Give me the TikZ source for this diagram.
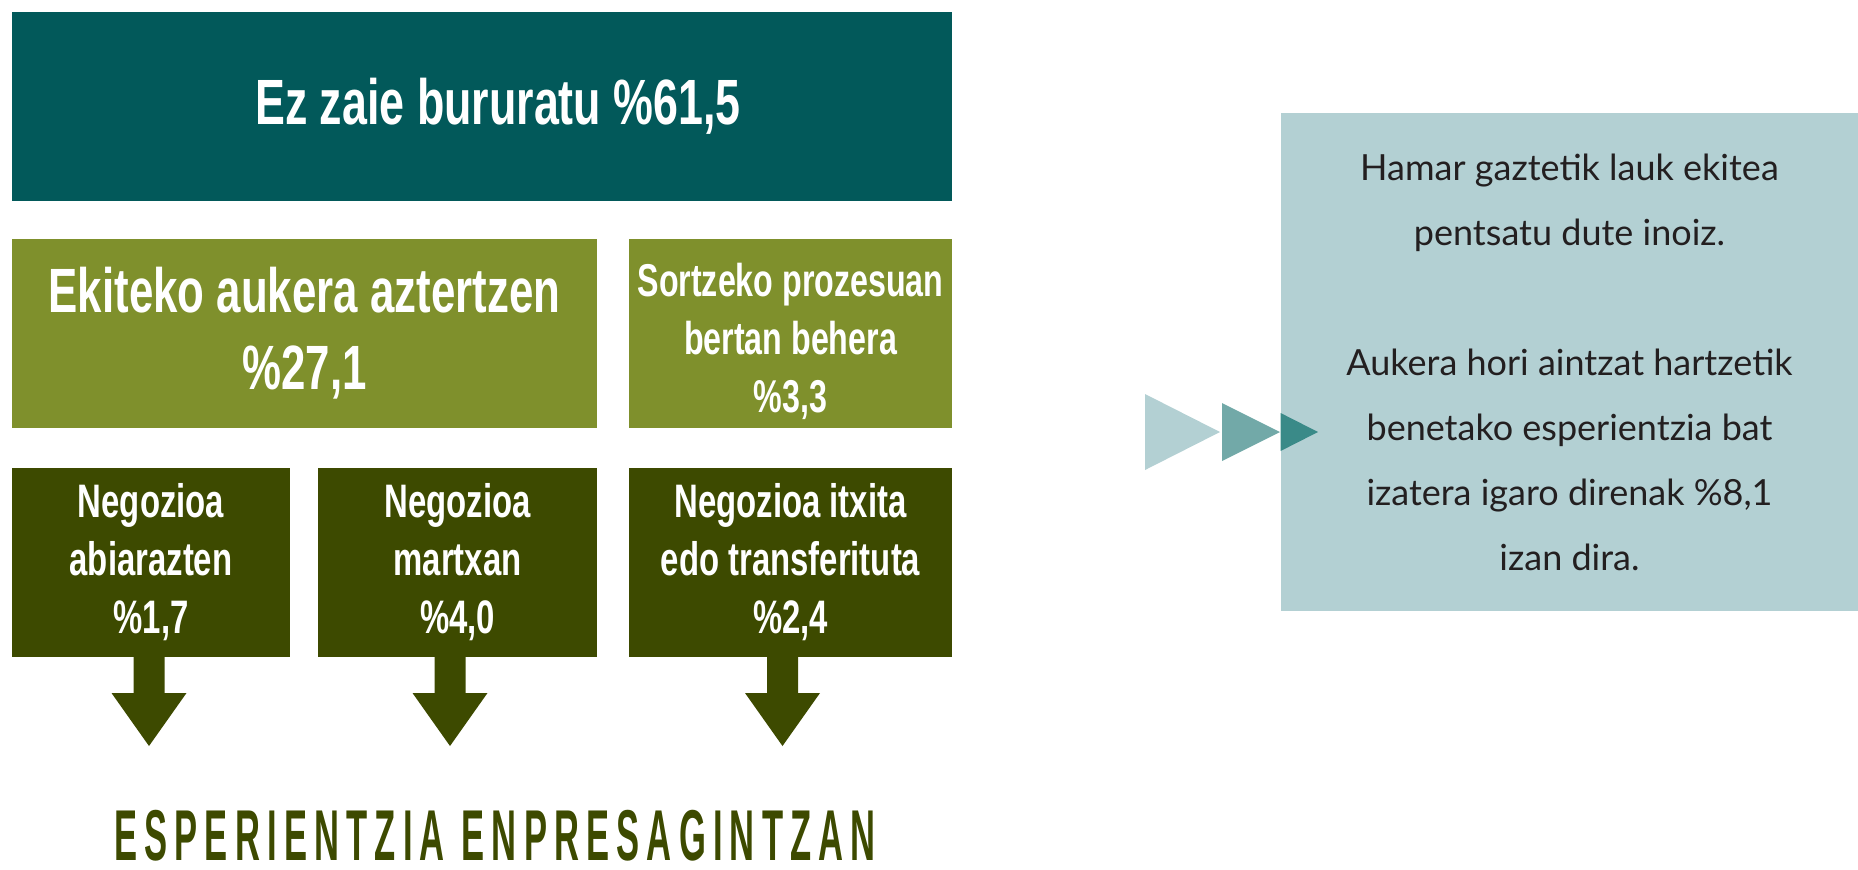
\documentclass[tikz,border=0pt]{standalone}
\usepackage{fontspec}
\setmainfont{Lato}
\newfontfamily\condfont{Liberation Sans}[FakeStretch=0.7]
\newfontfamily\titlefont{Liberation Sans}[FakeStretch=0.48,LetterSpace=10]
\usetikzlibrary{positioning}

\definecolor{tealdark}{HTML}{02595A}
\definecolor{olivegreen}{HTML}{7F902C}
\definecolor{olivedark}{HTML}{3D4A00}
\definecolor{paleblue}{HTML}{B3D0D3}
\definecolor{midteal}{HTML}{72A9A8}
\definecolor{deepteal}{HTML}{3A8A88}
\definecolor{inkgrey}{HTML}{231F20}

% block arrow pointing down, hung below a box
\newcommand{\bigdown}[1]{%
  \fill[olivedark] (#1) ++(-15.5,0) -- ++(0,36) -- ++(-22,0) -- ++(37.5,53)
    -- ++(37.5,-53) -- ++(-22,0) -- ++(0,-36) -- cycle;}

\begin{document}
\begin{tikzpicture}[
    x=0.5pt, y=-0.5pt,
    box/.style={rectangle, inner sep=0pt, text=white, align=center, minimum height=94.5pt},
    topbox/.style={box, fill=tealdark, minimum width=470pt,
      font=\condfont\bfseries\fontsize{32}{38}\selectfont},
    midbox/.style={box, fill=olivegreen},
    lowbox/.style={box, fill=olivedark, font=\condfont\bfseries\fontsize{23.5}{29}\selectfont},
    notebox/.style={rectangle, inner sep=0pt, fill=paleblue, minimum width=288.5pt,
      minimum height=249pt, align=center, text=inkgrey, font=\fontsize{18}{32.5}\selectfont},
    headline/.style={anchor=base, text=olivedark, inner sep=0pt, text depth=0pt,
      font=\titlefont\bfseries\fontsize{36}{40}\selectfont}
]
\useasboundingbox (0,0) rectangle (1858,869);

% left column of boxes
\node[topbox] (bururatu) at (482,106.5) {\hspace*{16pt}Ez zaie bururatu \%61,5};
\node[midbox, minimum width=292.5pt, below=18.5pt of bururatu.south west, anchor=north west,
  font=\condfont\bfseries\fontsize{31.3}{38.5}\selectfont] (aztertzen)
  {Ekiteko aukera aztertzen\\\%27,1};
\node[midbox, minimum width=161.5pt, below=18.5pt of bururatu.south east, anchor=north east,
  font=\condfont\bfseries\fontsize{23}{29}\selectfont] (behera)
  {\rule{0pt}{25pt}Sortzeko prozesuan\\bertan behera\\\%3,3};

\node[lowbox, minimum width=139pt, below=19.5pt of aztertzen.south west, anchor=north west] (abiarazten)
  {Negozioa\\abiarazten\\\%1,7};
\node[lowbox, minimum width=139.5pt, below=19.5pt of aztertzen.south east, anchor=north east] (martxan)
  {Negozioa\\martxan\\\%4,0};
\node[lowbox, minimum width=161.5pt, below=19.5pt of behera.south east, anchor=north east] (itxita)
  {Negozioa itxita\\edo transferituta\\\%2,4};

% arrows out of the lower boxes
\bigdown{[xshift=-1pt]abiarazten.south}
\bigdown{[xshift=-3.75pt]martxan.south}
\bigdown{[xshift=-4pt]itxita.south}

\node[headline] (esperientzia) at (495,860) {ESPERIENTZIA ENPRESAGINTZAN};

% note on the right
\node[notebox] (oharra) at (1569.5,362)
  {Hamar gaztetik lauk ekitea\\pentsatu dute inoiz.\\[32.5pt]
   Aukera hori aintzat hartzetik\\benetako esperientzia bat\\izatera igaro direnak \%8,1\\izan dira.};

\fill[paleblue] (1145,394) -- (1220,432) -- (1145,470) -- cycle;
\fill[midteal] (1222,403) -- (1280,432) -- (1222,461) -- cycle;
\fill[deepteal] (oharra.west |- 0,413) -- (1318,432) -- (oharra.west |- 0,451) -- cycle;

\end{tikzpicture}
\end{document}
